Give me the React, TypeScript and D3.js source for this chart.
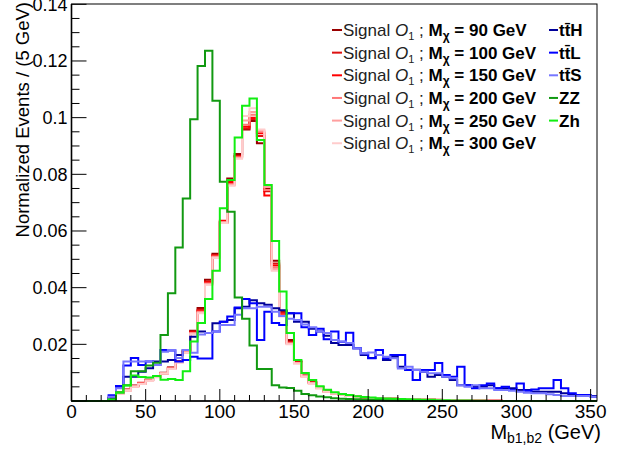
import React from 'react';
import * as d3 from 'd3';

// Bin width 5 GeV, bins start at 0 GeV
const BIN = 5;

const sigM90 = [0,0,0,0,0, 0.0010,0.0030,0.0040,0.0055,0.0062,0.0075,0.0088,0.0100,0.0118,0.0140,0.0176,
  0.0248,0.0328,0.0428,0.0520,0.0628,0.0785,0.0872,0.0958,0.0988,0.0910,0.0750,0.0495,0.0318,0.0215,0.0140,
  0.0090,0.0066,0.0048,0.0035,0.0028,0.0023,0.0019,0.0016,0.0013,0.0011,0.0010,0.0009,0.0008,0.0007,0.0006,0.0005,0.0005,0.0004,0.0003,0.0003,0.0002,0.0002,0.0002,0.0001,0.0001,0.0001,0.0001,0,0,0,0,0,0,0,0,0,0,0,0,0];
const sigM100 = [0,0,0,0,0, 0.0009,0.0028,0.0041,0.0053,0.0064,0.0073,0.0086,0.0098,0.0117,0.0139,0.0175,
  0.0245,0.0322,0.0422,0.0515,0.0632,0.0775,0.0865,0.0962,0.0995,0.0935,0.0740,0.0485,0.0312,0.0208,0.0138,
  0.0089,0.0065,0.0047,0.0034,0.0028,0.0022,0.0019,0.0015,0.0013,0.0011,0.0010,0.0009,0.0008,0.0007,0.0006,0.0006,0.0005,0.0004,0.0004,0.0003,0.0002,0.0002,0.0002,0.0001,0.0001,0.0001,0.0001,0,0,0,0,0,0,0,0,0,0,0,0,0];
const sigM150 = [0,0,0,0,0, 0.0010,0.0027,0.0038,0.0052,0.0063,0.0074,0.0085,0.0099,0.0115,0.0138,0.0172,
  0.0242,0.0318,0.0418,0.0512,0.0636,0.0770,0.0862,0.0968,0.1000,0.0945,0.0725,0.0478,0.0306,0.0205,0.0135,
  0.0088,0.0064,0.0046,0.0034,0.0027,0.0022,0.0018,0.0015,0.0012,0.0011,0.0010,0.0009,0.0008,0.0007,0.0006,0.0005,0.0005,0.0004,0.0003,0.0003,0.0003,0.0002,0.0002,0.0001,0.0001,0.0001,0.0001,0,0,0,0,0,0,0,0,0,0,0,0,0];
const sigM200 = [0,0,0,0,0, 0.0008,0.0028,0.0039,0.0054,0.0061,0.0075,0.0087,0.0097,0.0116,0.0137,0.0173,
  0.0240,0.0315,0.0415,0.0510,0.0632,0.0765,0.0860,0.0975,0.1010,0.0950,0.0745,0.0470,0.0302,0.0204,0.0134,
  0.0087,0.0063,0.0046,0.0033,0.0027,0.0022,0.0018,0.0015,0.0013,0.0011,0.0010,0.0009,0.0008,0.0007,0.0006,0.0005,0.0005,0.0004,0.0003,0.0003,0.0002,0.0002,0.0002,0.0001,0.0001,0.0001,0.0001,0,0,0,0,0,0,0,0,0,0,0,0,0];
const sigM250 = [0,0,0,0,0, 0.0009,0.0026,0.0038,0.0051,0.0062,0.0072,0.0085,0.0098,0.0114,0.0138,0.0171,
  0.0238,0.0312,0.0412,0.0508,0.0630,0.0762,0.0858,0.0990,0.1020,0.0955,0.0755,0.0465,0.0300,0.0202,0.0133,
  0.0087,0.0063,0.0045,0.0033,0.0027,0.0022,0.0018,0.0015,0.0013,0.0011,0.0010,0.0009,0.0008,0.0007,0.0006,0.0005,0.0005,0.0004,0.0003,0.0003,0.0002,0.0002,0.0002,0.0001,0.0001,0.0001,0.0001,0,0,0,0,0,0,0,0,0,0,0,0,0];
const sigM300 = [0,0,0,0,0, 0.0008,0.0025,0.0037,0.0050,0.0060,0.0071,0.0084,0.0097,0.0113,0.0136,0.0170,
  0.0236,0.0310,0.0410,0.0505,0.0628,0.0760,0.0855,0.1006,0.1033,0.0958,0.0762,0.0460,0.0298,0.0200,0.0132,
  0.0086,0.0062,0.0045,0.0033,0.0027,0.0022,0.0018,0.0015,0.0013,0.0011,0.0010,0.0009,0.0008,0.0007,0.0006,0.0005,0.0005,0.0004,0.0003,0.0003,0.0002,0.0002,0.0002,0.0001,0.0001,0.0001,0.0001,0,0,0,0,0,0,0,0,0,0,0,0,0];

const ttH = [0,0,0,0,0, 0.0010,0.0050,0.0086,0.0086,0.0103,0.0116,0.0139,0.0139,0.0145,0.0162,0.0180,
  0.0227,0.0245,0.0240,0.0274,0.0280,0.0286,0.0327,0.0333,0.0356,0.0345,0.0340,0.0327,0.0320,0.0310,0.0280,
  0.0280,0.0255,0.0245,0.0230,0.0205,0.0198,0.0198,0.0186,0.0162,0.0152,0.0162,0.0145,0.0156,0.0121,0.0110,
  0.0110,0.0103,0.0086,0.0092,0.0086,0.0074,0.0056,0.0056,0.0050,0.0050,0.0056,0.0045,0.0045,0.0045,0.0039,
  0.0039,0.0033,0.0033,0.0033,0.0033,0.0027,0.0021,0.0021,0.0019,0.0018];
const ttL = [0,0,0,0,0, 0.0020,0.0053,0.0125,0.0152,0.0127,0.0139,0.0127,0.0180,0.0178,0.0139,0.0145,
  0.0156,0.0150,0.0150,0.0245,0.0280,0.0298,0.0330,0.0360,0.0345,0.0215,0.0315,0.0275,0.0268,0.0310,0.0310,
  0.0260,0.0233,0.0255,0.0218,0.0245,0.0209,0.0241,0.0186,0.0168,0.0151,0.0180,0.0151,0.0162,0.0162,0.0109,
  0.0074,0.0109,0.0109,0.0134,0.0092,0.0086,0.0121,0.0056,0.0045,0.0056,0.0062,0.0045,0.0050,0.0039,0.0062,
  0.0036,0.0041,0.0045,0.0045,0.0074,0.0045,0.0027,0.0021,0.0021,0.0015];
const ttS = [0,0,0,0,0, 0.0015,0.0045,0.0139,0.0139,0.0139,0.0139,0.0127,0.0174,0.0180,0.0152,0.0180,
  0.0170,0.0235,0.0240,0.0245,0.0268,0.0268,0.0304,0.0327,0.0327,0.0333,0.0333,0.0315,0.0300,0.0290,0.0286,
  0.0270,0.0260,0.0245,0.0240,0.0215,0.0210,0.0205,0.0186,0.0168,0.0171,0.0162,0.0156,0.0151,0.0115,0.0121,
  0.0109,0.0103,0.0098,0.0098,0.0086,0.0080,0.0056,0.0050,0.0056,0.0045,0.0045,0.0039,0.0039,0.0036,0.0033,
  0.0029,0.0027,0.0027,0.0024,0.0021,0.0018,0.0018,0.0018,0.0018,0.0015];
const ZZ = [0,0,0,0,0, 0.0005,0.0030,0.0056,0.0105,0.0105,0.0125,0.0135,0.0233,0.0380,0.0542,0.0715,
  0.0994,0.1182,0.1236,0.1060,0.0774,0.0668,0.0365,0.0290,0.0196,0.0113,0.0113,0.0056,0.0048,0.0046,0.0036,
  0.0025,0.0020,0.0016,0.0013,0.0010,0.0008,0.0007,0.0006,0.0005,0.0004,0.0004,0.0003,0.0003,0.0002,0.0002,
  0.0002,0.0001,0.0001,0,0,0,0,0,0,0,0,0,0,0,0,0,0,0,0,0,0,0,0,0,0];
const Zh = [0,0,0,0,0, 0.0005,0.0030,0.0055,0.0090,0.0085,0.0083,0.0088,0.0075,0.0078,0.0074,0.0105,
  0.0210,0.0275,0.0360,0.0460,0.0680,0.0780,0.0930,0.1042,0.1068,0.0921,0.0762,0.0565,0.0386,0.0240,0.0145,
  0.0099,0.0074,0.0052,0.0040,0.0031,0.0025,0.0021,0.0017,0.0014,0.0012,0.0010,0.0009,0.0008,0.0007,0.0006,
  0.0005,0.0004,0.0004,0.0003,0.0003,0.0002,0.0002,0.0002,0.0001,0.0001,0,0,0,0,0,0,0,0,0,0,0,0,0,0,0];

const signalMasses = ['90', '100', '150', '200', '250', '300'];
const signalSeries = [sigM90, sigM100, sigM150, sigM200, sigM250, sigM300];
const signalColors = ['#990000', '#dd1111', '#ff0000', '#ff7777', '#ff9f9f', '#ffcccc'];

const bkgNames = ['ttH', 'ttL', 'ttS', 'ZZ', 'Zh'];
const bkgSeries = [ttH, ttL, ttS, ZZ, Zh];
const bkgColors = ['#000099', '#0000ff', '#7777ff', '#119911', '#11ee11'];

const xMajorTicks = [0, 50, 100, 150, 200, 250, 300, 350];
const yMajorTicks = [0.02, 0.04, 0.06, 0.08, 0.1, 0.12, 0.14];
const yTickLabels = ['0.02', '0.04', '0.06', '0.08', '0.1', '0.12', '0.14'];

const FONT = '"Liberation Sans", Arial, Helvetica, sans-serif';

function BkgLabel({ name }: { name: string }) {
  if (name.startsWith('tt')) {
    return <tspan>{'tt\u0304' + name.slice(2)}</tspan>;
  }
  return <tspan>{name}</tspan>;
}

export default function App() {
  const W = 618, H = 450;
  const L = 71.5, R = 597, T = 4, B = 401;
  const x = d3.scaleLinear().domain([0, 354.3]).range([L, R]);
  const y = d3.scaleLinear().domain([0, 0.14]).range([B, 4.3]);
  const line = d3.line<[number, number]>()
    .x(d => x(d[0]))
    .y(d => y(d[1]))
    .curve(d3.curveStepAfter);
  const histPath = (vals: number[]) => {
    const pts: [number, number][] = vals.map((v, i) => [i * BIN, v]);
    pts.push([vals.length * BIN, vals[vals.length - 1]]);
    return line(pts) || '';
  };

  const xMinor = d3.range(0, 351, 10);
  const yMinor = d3.range(0, 0.1401, 0.005);

  const rowY = (i: number) => 30 + i * 22.65;

  return (
    <svg width={W} height={H} style={{ position: 'absolute', left: 0, top: 0, background: '#fff' }}
      fontFamily={FONT}>
      <defs>
        <clipPath id="plotclip">
          <rect x={L} y={T} width={R - L} height={B - T + 1} />
        </clipPath>
      </defs>
      <rect x={0} y={0} width={W} height={H} fill="#fff" />

      <g clipPath="url(#plotclip)" fill="none" strokeWidth={2} strokeLinejoin="miter">
        {signalSeries.map((s, i) => (
          <path key={'s' + i} d={histPath(s)} stroke={signalColors[i]} />
        ))}
        {bkgSeries.map((s, i) => (
          <path key={'b' + i} d={histPath(s)} stroke={bkgColors[i]} />
        ))}
      </g>

      {/* frame */}
      <rect x={L} y={T} width={R - L} height={B - T} fill="none" stroke="#000" strokeWidth={1} />
      <line x1={L} x2={L} y1={T} y2={B} stroke="#000" strokeWidth={1.6} />
      <line x1={L} x2={R} y1={B} y2={B} stroke="#000" strokeWidth={1.6} />

      {/* y ticks */}
      {yMinor.map((v, i) => {
        const major = i % 4 === 0;
        return <line key={'ym' + i} x1={L} x2={L + (major ? 15 : 8)} y1={y(v)} y2={y(v)} stroke="#000" strokeWidth={1} />;
      })}
      {yMajorTicks.map((v, i) => (
        <text key={'yl' + i} x={L - 4} y={y(v)} dy="0.36em" textAnchor="end" fontSize={18} fill="#000">{yTickLabels[i]}</text>
      ))}

      {/* x ticks */}
      {xMinor.map((v, i) => {
        const major = v % 50 === 0;
        return <line key={'xm' + i} x1={x(v)} x2={x(v)} y1={B} y2={B - (major ? 12 : 6)} stroke="#000" strokeWidth={1} />;
      })}
      {xMajorTicks.map(v => (
        <text key={'xl' + v} x={x(v)} y={418} textAnchor="middle" fontSize={19} fill="#000">{v}</text>
      ))}

      {/* axis titles */}
      <text x={601} y={439} textAnchor="end" fontSize={20} fill="#000">
        <tspan>M</tspan>
        <tspan fontSize={14} dy={4}>b1,b2</tspan>
        <tspan dy={-4}> (GeV)</tspan>
      </text>
      <text transform="translate(29,2) rotate(-90)" textAnchor="end" fontSize={18.5} fill="#000">
        Normalized Events / (5 GeV)
      </text>

      {/* legend: signals */}
      {signalMasses.map((m, i) => (
        <g key={'lg' + i}>
          <line x1={332} x2={342} y1={rowY(i)} y2={rowY(i)} stroke={signalColors[i]} strokeWidth={2} />
          <text x={343} y={rowY(i) + 6} fontSize={17} fill="#222">
            <tspan>Signal </tspan>
            <tspan fontStyle="italic">O</tspan>
            <tspan fontSize={11} dy={4}>1</tspan>
            <tspan dy={-4}> ; </tspan>
            <tspan fontWeight="bold" fill="#000">M</tspan>
            <tspan fontWeight="bold" fill="#000" fontSize={12} dy={4}>χ</tspan>
            <tspan fontWeight="bold" fill="#000" dy={-4}> = {m} GeV</tspan>
          </text>
        </g>
      ))}
      {/* legend: backgrounds */}
      {bkgNames.map((n, i) => (
        <g key={'lb' + i}>
          <line x1={549} x2={558} y1={rowY(i)} y2={rowY(i)} stroke={bkgColors[i]} strokeWidth={2} />
          <text x={559} y={rowY(i) + 6} fontSize={17} fontWeight="bold" fill="#000">
            <BkgLabel name={n} />
          </text>
        </g>
      ))}
    </svg>
  );
}
